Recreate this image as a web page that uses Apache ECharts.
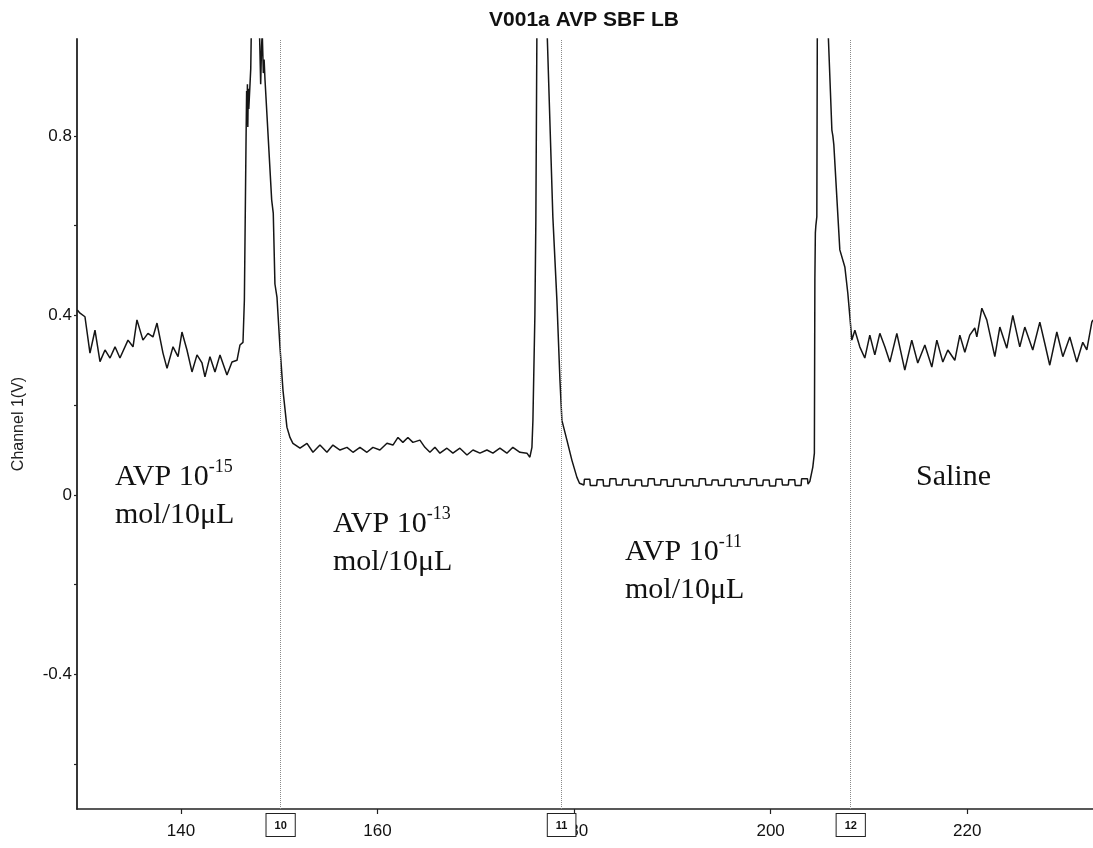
<!DOCTYPE html>
<html><head><meta charset="utf-8">
<script src="https://cdn.jsdelivr.net/npm/echarts@6/dist/echarts.min.js"></script>
<style>html,body{margin:0;padding:0;background:#fff}#c{width:1093px;height:848px}</style>
</head><body><div id="c"></div>
<script>
// ---- data ----
const timeSec = [
129.45,129.73,130.23,130.74,131.25,131.76,132.27,132.78,133.29,133.79,134.61,135.12,135.52,136.13,136.64,137.15,137.56,138.17,138.58,139.19,139.70,140.10,140.61,141.12,141.63,142.14,142.44,142.95,143.46,143.97,144.68,145.19,145.70,146.00,146.31,
146.45,146.62,146.68,146.72,146.76,146.80,146.85,146.90,147.10,147.20,147.60,147.97,148.11,148.20,148.27,148.38,148.46,148.55,149.23,149.39,149.56,149.77,150.07,150.38,150.78,151.09,151.39,
152.11,152.82,153.43,154.14,154.85,155.46,156.18,156.89,157.50,158.21,158.92,159.53,160.24,160.96,161.57,162.08,162.58,163.09,163.60,164.31,164.82,165.33,165.84,166.35,167.06,167.67,168.38,169.10,169.71,170.42,171.13,171.74,172.45,173.16,173.77,174.49,175.20,175.50,
175.71,175.81,176.01,176.11,176.22,176.72,177.23,177.84,178.25,178.56,178.76,179.27,179.78,180.29,
180.55,181.00,181.05,181.60,181.65,182.30,182.35,182.95,183.00,183.60,183.65,184.25,184.30,184.90,184.95,185.55,185.60,186.20,186.25,186.85,186.90,187.50,187.55,188.15,188.20,188.80,188.85,189.45,189.50,190.10,190.15,190.75,190.80,191.40,191.45,192.05,192.10,192.70,192.75,193.35,193.40,194.00,194.05,194.65,194.70,195.30,195.35,195.95,196.00,196.60,196.65,197.25,197.30,197.90,197.95,198.55,198.60,199.20,199.25,199.85,199.90,200.50,200.55,201.15,201.20,201.80,201.85,202.45,202.50,203.10,203.15,203.75,203.80,203.99,
204.29,204.45,204.50,204.55,204.60,204.70,204.75,205.21,205.82,206.23,206.33,206.43,207.04,207.55,207.85,208.05,
208.26,208.57,209.07,209.58,210.09,210.60,211.11,211.62,212.13,212.84,213.65,214.36,214.97,215.69,216.40,216.91,217.52,218.03,218.74,219.25,219.76,220.26,220.77,220.98,221.49,221.99,222.81,223.32,224.03,224.64,225.35,225.86,226.67,227.39,227.89,228.40,229.12,229.73,230.44,231.15,231.76,232.17,232.68,232.80
];
const channelV = [
0.412,0.405,0.397,0.316,0.367,0.297,0.323,0.305,0.330,0.305,0.345,0.330,0.390,0.345,0.360,0.352,0.383,0.316,0.282,0.330,0.308,0.363,0.323,0.274,0.312,0.294,0.263,0.308,0.274,0.312,0.267,0.296,0.300,0.334,0.340,
0.434,0.790,0.900,0.830,0.915,0.820,0.905,0.860,0.950,1.100,1.350,1.050,0.915,1.000,1.030,0.940,0.970,0.925,0.657,0.628,0.470,0.440,0.330,0.233,0.151,0.128,0.115,
0.104,0.115,0.095,0.111,0.095,0.111,0.100,0.106,0.095,0.106,0.095,0.106,0.100,0.115,0.111,0.128,0.117,0.128,0.117,0.122,0.106,0.095,0.106,0.093,0.104,0.093,0.104,0.089,0.100,0.093,0.100,0.093,0.104,0.093,0.106,0.095,0.093,0.084,
0.106,0.166,0.400,0.613,1.050,1.400,1.050,0.619,0.434,0.256,0.166,0.122,0.077,0.039,
0.026,0.022,0.035,0.035,0.021,0.021,0.034,0.034,0.020,0.020,0.036,0.036,0.022,0.022,0.035,0.035,0.021,0.021,0.033,0.033,0.020,0.020,0.036,0.036,0.022,0.022,0.034,0.034,0.019,0.019,0.035,0.035,0.021,0.021,0.034,0.034,0.020,0.020,0.036,0.036,0.022,0.022,0.033,0.033,0.021,0.021,0.035,0.035,0.020,0.020,0.034,0.034,0.022,0.022,0.036,0.036,0.021,0.021,0.033,0.033,0.020,0.020,0.035,0.035,0.022,0.022,0.034,0.034,0.021,0.021,0.036,0.036,0.024,0.030,
0.062,0.093,0.480,0.584,0.600,0.620,1.050,1.400,1.050,0.813,0.800,0.780,0.546,0.508,0.450,0.400,
0.345,0.367,0.330,0.305,0.356,0.312,0.360,0.330,0.296,0.360,0.278,0.345,0.294,0.334,0.285,0.345,0.296,0.323,0.300,0.356,0.318,0.356,0.372,0.352,0.416,0.390,0.308,0.374,0.327,0.400,0.330,0.374,0.323,0.385,0.338,0.289,0.363,0.308,0.352,0.296,0.340,0.323,0.385,0.390
];
const markerTimes = [150.14, 178.73, 208.15];
const markerLabels = ['10', '11', '12'];
const xTickValues = [140, 160, 180, 200, 220];
const yTickValues = [-0.6, -0.4, -0.2, 0, 0.2, 0.4, 0.6, 0.8];
const yLabelValues = [-0.4, 0, 0.4, 0.8];
const chartTitle = 'V001a AVP SBF LB';
const yAxisName = 'Channel 1(V)';
const doseLabels = [
  {main: 'AVP 10', exp: '-15', unit: 'mol/10μL'},
  {main: 'AVP 10', exp: '-13', unit: 'mol/10μL'},
  {main: 'AVP 10', exp: '-11', unit: 'mol/10μL'},
  {main: 'Saline', exp: '', unit: ''}
];
// ---- chart ----
const X_MIN = 129.42, X_MAX = 232.8, Y_MIN = -0.70, Y_MAX = 1.016;
const pairs = timeSec.map((t, i) => [t, channelV[i]]);
const richStyle = {
  a: {fontSize: 30, fontFamily: '"Liberation Serif", serif', lineHeight: 38, fill: '#111', color: '#111'},
  s: {fontSize: 18, fontFamily: '"Liberation Serif", serif', lineHeight: 18, verticalAlign: 'top', fill: '#111', color: '#111'}
};
function doseText(d) {
  let t = '{a|' + d.main + '}' + (d.exp ? '{s|' + d.exp + '}' : '');
  if (d.unit) t += '\n{a|' + d.unit + '}';
  return t;
}
const dosePos = [[115, 458], [333, 505], [625, 533], [916, 458]];
const chart = echarts.init(document.getElementById('c'), null, {renderer: 'canvas'});
chart.setOption({
  animation: false,
  backgroundColor: '#fff',
  grid: {left: 77, right: 0, top: 39, bottom: 39, containLabel: false, outerBoundsMode: 'none'},
  xAxis: {
    type: 'value', min: X_MIN, max: X_MAX,
    axisLine: {show: true, onZero: false, lineStyle: {color: '#222', width: 1.5}},
    axisTick: {show: true, length: 5, customValues: xTickValues, lineStyle: {color: '#222', width: 1.2}},
    axisLabel: {customValues: xTickValues, fontSize: 17, fontFamily: '"Liberation Sans", Arial, sans-serif', color: '#111', margin: 14},
    splitLine: {show: false}
  },
  yAxis: {
    type: 'value', min: Y_MIN, max: Y_MAX,
    name: yAxisName, nameLocation: 'middle', nameRotate: 90, nameGap: 50,
    nameTextStyle: {fontSize: 16, fontFamily: '"Liberation Sans", Arial, sans-serif', color: '#222'},
    axisLine: {show: true, onZero: false, lineStyle: {color: '#222', width: 1.8}},
    axisTick: {show: true, length: 3, customValues: yTickValues, lineStyle: {color: '#222', width: 1.2}},
    axisLabel: {customValues: yLabelValues, fontSize: 17, fontFamily: '"Liberation Sans", Arial, sans-serif', color: '#111', margin: 5,
      formatter: v => String(Math.round(v * 10) / 10)},
    splitLine: {show: false}
  },
  series: [{
    type: 'line', data: pairs, showSymbol: false, symbol: 'none', clip: true,
    lineStyle: {color: '#151515', width: 1.5},
    markLine: {
      silent: true, symbol: ['none', 'none'], animation: false,
      lineStyle: {color: '#8a8a8a', width: 1, type: [1, 1]},
      label: {show: true, position: 'start', distance: 5, formatter: '{b}',
        fontSize: 11, fontWeight: 'bold', fontFamily: '"Liberation Sans", Arial, sans-serif', color: '#111',
        backgroundColor: '#fff', borderColor: '#222', borderWidth: 1, padding: [5, 8, 4, 8], lineHeight: 13},
      data: markerTimes.map((t, i) => [{coord: [t, Y_MIN], name: markerLabels[i]}, {coord: [t, Y_MAX]}])
    }
  }],
  graphic: [
    {type: 'text', x: 584, y: 20, style: {text: chartTitle, font: 'bold 21px "Liberation Sans", Arial, sans-serif', fill: '#111', align: 'center', verticalAlign: 'middle'}}
  ].concat(doseLabels.map((d, i) => ({
    type: 'text', x: dosePos[i][0], y: dosePos[i][1],
    style: {text: doseText(d), rich: richStyle, fontSize: 30, fontFamily: '"Liberation Serif", serif', fill: '#111'}
  })))
});
</script></body></html>
